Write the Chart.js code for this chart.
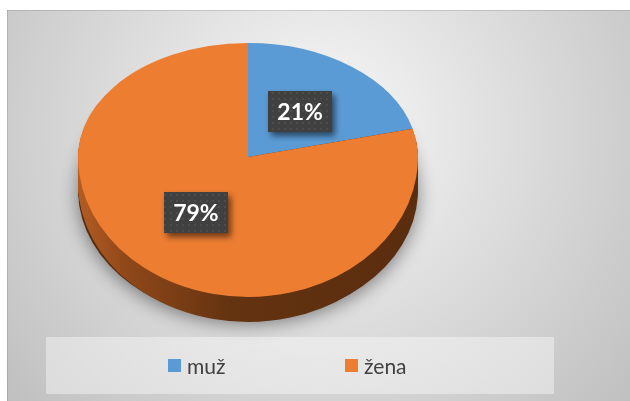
<!DOCTYPE html>
<html lang="cs">
<head>
<meta charset="UTF-8" />
<title>muž / žena</title>
<script src="https://cdn.jsdelivr.net/npm/chart.js@4.4.0/dist/chart.umd.min.js"></script>
<style>
  html, body { margin: 0; padding: 0; background: #fff; }
  #wrap { position: relative; width: 630px; height: 401px; }
  #legend {
    position: absolute; left: 46px; top: 337px; width: 508px; height: 57px;
    box-sizing: border-box; padding-left: 122px;
    background: rgba(255, 255, 255, 0.4);
    display: flex; align-items: center;
    font-family: Lato, 'Open Sans', sans-serif; font-size: 21px; color: #404040;
  }
  .item { display: flex; align-items: center; width: 177px; }
  .sw { width: 13px; height: 13px; margin-right: 6px; }
</style>
</head>
<body>
<div id="wrap">
  <canvas id="chart" width="630" height="401"></canvas>
  <div id="legend"></div>
</div>
<script>
// data
const labels = ['muž', 'žena']
const values = [21, 79]
const colors = ['#5B9BD5', '#ED7D31']

// tilted pie geometry (far half flatter than near half, like Excel's 3D view)
const pieCx = 248, pieCy = 157, pieRx = 170
const ryFar = 114, ryNear = 140, depth = 25

const total = values.reduce((a, b) => a + b, 0)
const pctLabels = values.map(v => Math.round(v / total * 100) + '%')

function halfTransform(ctx, arc, ry, dy, cy) {
  const R = arc.outerRadius
  ctx.translate(pieCx, (cy || pieCy) + dy)
  ctx.scale(pieRx / R, ry / R)
  ctx.translate(-arc.x, -arc.y)
}

function sideFill(ctx, arc) {
  const R = arc.outerRadius
  const g = ctx.createLinearGradient(arc.x - R, 0, arc.x + R, 0)
  g.addColorStop(0, '#b35c22')
  g.addColorStop(0.15, '#8e4719')
  g.addColorStop(0.45, '#643310')
  g.addColorStop(1, '#5a2d0f')
  return g
}

function drawArc(ctx, arc, fill) {
  let el = arc
  if (fill) {
    el = Object.create(arc)
    el.options = Object.assign({}, arc.options, { backgroundColor: fill })
  }
  el.draw(ctx)
}

function drawTilted(chart, dy, side) {
  const ctx = chart.ctx
  const arcs = chart.getDatasetMeta(0).data
  const halves = [
    [0, pieCy + dy + 1, ryFar],
    [pieCy + dy, chart.height, ryNear],
  ]
  halves.forEach(([y0, y1, ry]) => {
    arcs.forEach(arc => {
      ctx.save()
      ctx.beginPath()
      ctx.rect(0, y0, chart.width, y1 - y0)
      ctx.clip()
      halfTransform(ctx, arc, ry, dy)
      drawArc(ctx, arc, side ? sideFill(ctx, arc) : null)
      ctx.restore()
    })
  })
}

const background = {
  id: 'background',
  beforeDraw(chart) {
    const ctx = chart.ctx
    const w = chart.width, h = chart.height
    ctx.save()
    ctx.fillStyle = '#fff'
    ctx.fillRect(0, 0, w, h)
    const g = ctx.createRadialGradient(320, 130, 0, 320, 130, 430)
    g.addColorStop(0, '#f8f8f8')
    g.addColorStop(1, '#bdbdbd')
    ctx.fillStyle = g
    ctx.fillRect(7, 10, w - 7, h - 10)
    ctx.fillStyle = 'rgba(0,0,0,0.12)'
    ctx.fillRect(7, 10, w - 7, 1)
    ctx.fillRect(7, 10, 1, h - 10)
    ctx.restore()
  },
}

const pie3d = {
  id: 'pie3d',
  beforeDatasetsDraw(chart) {
    const ctx = chart.ctx
    const arcs = chart.getDatasetMeta(0).data

    // soft shadow behind the whole body
    ctx.save()
    ctx.shadowColor = 'rgba(0,0,0,0.45)'
    ctx.shadowBlur = 18
    ctx.shadowOffsetY = 4
    arcs.forEach(arc => {
      ctx.save()
      halfTransform(ctx, arc, 130, 0, 190)
      drawArc(ctx, arc, '#5a2d0f')
      ctx.restore()
    })
    ctx.restore()

    // side wall
    for (let d = depth; d > 0; d--) drawTilted(chart, d, true)
    // top face
    drawTilted(chart, 0, false)
    return false
  },
  afterDraw(chart) {
    const ctx = chart.ctx
    const pat = document.createElement('canvas')
    pat.width = 6; pat.height = 6
    const pc = pat.getContext('2d')
    pc.fillStyle = '#404040'
    pc.fillRect(0, 0, 6, 6)
    pc.fillStyle = '#4c4c4c'
    pc.fillRect(2, 2, 2, 2)
    const pattern = ctx.createPattern(pat, 'repeat')

    chart.getDatasetMeta(0).data.forEach((arc, i) => {
      const mid = (arc.startAngle + arc.endAngle) / 2
      const ux = Math.cos(mid), uy = Math.sin(mid)
      const ry = uy < 0 ? ryFar : ryNear
      const x = pieCx + pieRx * 0.5 * ux
      const y = pieCy + ry * 0.5 * uy
      const bw = 64, bh = 41

      ctx.save()
      ctx.shadowColor = 'rgba(0,0,0,0.55)'
      ctx.shadowBlur = 6
      ctx.shadowOffsetX = 3
      ctx.shadowOffsetY = 4
      ctx.fillStyle = pattern
      ctx.fillRect(Math.round(x - bw / 2), Math.round(y - bh / 2), bw, bh)
      ctx.restore()

      ctx.save()
      ctx.fillStyle = '#fff'
      ctx.font = 'bold 23px Lato, "Open Sans", sans-serif'
      ctx.textAlign = 'center'
      ctx.textBaseline = 'middle'
      ctx.fillText(pctLabels[i], x, y + 1)
      ctx.restore()
    })
  },
}

const ctx = document.getElementById('chart').getContext('2d')
new Chart(ctx, {
  type: 'pie',
  data: {
    labels: labels,
    datasets: [{
      data: values,
      backgroundColor: colors,
      borderWidth: 0,
    }],
  },
  options: {
    responsive: false,
    animation: false,
    plugins: {
      legend: { display: false },
      tooltip: { enabled: false },
    },
  },
  plugins: [background, pie3d],
})

// legend
const legend = document.getElementById('legend')
labels.forEach((name, i) => {
  const item = document.createElement('div')
  item.className = 'item'
  const sw = document.createElement('span')
  sw.className = 'sw'
  sw.style.background = colors[i]
  const txt = document.createElement('span')
  txt.textContent = name
  item.appendChild(sw)
  item.appendChild(txt)
  legend.appendChild(item)
})
</script>
</body>
</html>
